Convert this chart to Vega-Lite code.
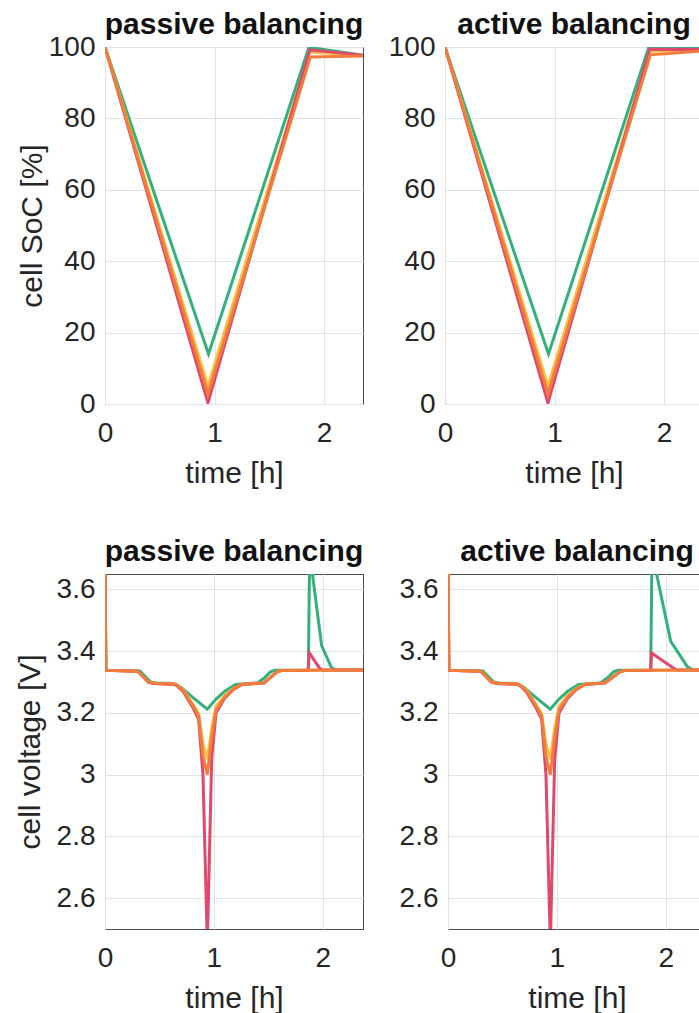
{
  "$schema": "https://vega.github.io/schema/vega-lite/v6.json",
  "padding": {"left": 14, "top": 9, "right": 0, "bottom": 0},
  "background": "white",
  "config": {
    "font": "Liberation Sans",
    "view": {"stroke": "#4d4d4d", "strokeWidth": 1},
    "axis": {
      "labelFont": "Liberation Sans", "titleFont": "Liberation Sans",
      "labelFontSize": 28, "titleFontSize": 30, "titleFontWeight": "normal",
      "labelColor": "#262626", "titleColor": "#262626",
      "ticks": false, "domain": false, "grid": true, "gridColor": "#e3e3e3",
      "labelFlush": false, "labelOverlap": false
    },
    "axisX": {"labelPadding": 15, "minExtent": 45, "maxExtent": 45, "titlePadding": 9},
    "axisY": {"labelPadding": 10, "titlePadding": 1},
    "title": {"font": "Liberation Sans", "fontSize": 30, "fontWeight": "bold", "color": "#111111", "offset": -7}
  },
  "datasets": {
    "soc": [
      {"mode": "passive", "cell": "a", "t": 0, "soc": 100},
      {"mode": "passive", "cell": "a", "t": 0.945, "soc": 14},
      {"mode": "passive", "cell": "a", "t": 1.862, "soc": 99.9},
      {"mode": "passive", "cell": "a", "t": 2.36, "soc": 97.7},
      {"mode": "passive", "cell": "b", "t": 0, "soc": 100},
      {"mode": "passive", "cell": "b", "t": 0.94, "soc": 5},
      {"mode": "passive", "cell": "b", "t": 1.87, "soc": 98.6},
      {"mode": "passive", "cell": "b", "t": 2.36, "soc": 97.6},
      {"mode": "passive", "cell": "c", "t": 0, "soc": 100},
      {"mode": "passive", "cell": "c", "t": 0.94, "soc": 0.3},
      {"mode": "passive", "cell": "c", "t": 1.87, "soc": 99.2},
      {"mode": "passive", "cell": "c", "t": 2.36, "soc": 97.7},
      {"mode": "passive", "cell": "d", "t": 0, "soc": 100},
      {"mode": "passive", "cell": "d", "t": 0.94, "soc": 2.8},
      {"mode": "passive", "cell": "d", "t": 1.875, "soc": 97.2},
      {"mode": "passive", "cell": "d", "t": 2.36, "soc": 97.5},
      {"mode": "active", "cell": "a", "t": 0, "soc": 100},
      {"mode": "active", "cell": "a", "t": 0.945, "soc": 14},
      {"mode": "active", "cell": "a", "t": 1.862, "soc": 100},
      {"mode": "active", "cell": "a", "t": 2.36, "soc": 99.7},
      {"mode": "active", "cell": "b", "t": 0, "soc": 100},
      {"mode": "active", "cell": "b", "t": 0.94, "soc": 5},
      {"mode": "active", "cell": "b", "t": 1.87, "soc": 98.8},
      {"mode": "active", "cell": "b", "t": 2.36, "soc": 99.1},
      {"mode": "active", "cell": "c", "t": 0, "soc": 100},
      {"mode": "active", "cell": "c", "t": 0.94, "soc": 0.3},
      {"mode": "active", "cell": "c", "t": 1.87, "soc": 99.4},
      {"mode": "active", "cell": "c", "t": 2.36, "soc": 99.3},
      {"mode": "active", "cell": "d", "t": 0, "soc": 100},
      {"mode": "active", "cell": "d", "t": 0.94, "soc": 2.8},
      {"mode": "active", "cell": "d", "t": 1.875, "soc": 97.8},
      {"mode": "active", "cell": "d", "t": 2.36, "soc": 98.9}
    ],
    "volt": [
      {"mode": "passive", "cell": "a", "t": 0, "v": 3.7},
      {"mode": "passive", "cell": "a", "t": 0.008, "v": 3.338},
      {"mode": "passive", "cell": "a", "t": 0.32, "v": 3.336},
      {"mode": "passive", "cell": "a", "t": 0.37, "v": 3.318},
      {"mode": "passive", "cell": "a", "t": 0.42, "v": 3.3},
      {"mode": "passive", "cell": "a", "t": 0.47, "v": 3.297},
      {"mode": "passive", "cell": "a", "t": 0.62, "v": 3.295},
      {"mode": "passive", "cell": "a", "t": 0.7, "v": 3.282},
      {"mode": "passive", "cell": "a", "t": 0.8, "v": 3.252},
      {"mode": "passive", "cell": "a", "t": 0.94, "v": 3.212},
      {"mode": "passive", "cell": "a", "t": 1.02, "v": 3.245},
      {"mode": "passive", "cell": "a", "t": 1.1, "v": 3.27},
      {"mode": "passive", "cell": "a", "t": 1.2, "v": 3.292},
      {"mode": "passive", "cell": "a", "t": 1.4, "v": 3.297},
      {"mode": "passive", "cell": "a", "t": 1.46, "v": 3.312},
      {"mode": "passive", "cell": "a", "t": 1.52, "v": 3.333},
      {"mode": "passive", "cell": "a", "t": 1.56, "v": 3.338},
      {"mode": "passive", "cell": "a", "t": 1.868, "v": 3.338},
      {"mode": "passive", "cell": "a", "t": 1.88, "v": 3.72},
      {"mode": "passive", "cell": "a", "t": 1.99, "v": 3.418},
      {"mode": "passive", "cell": "a", "t": 2.08, "v": 3.347},
      {"mode": "passive", "cell": "a", "t": 2.12, "v": 3.339},
      {"mode": "passive", "cell": "a", "t": 2.37, "v": 3.339},
      {"mode": "passive", "cell": "b", "t": 0, "v": 3.7},
      {"mode": "passive", "cell": "b", "t": 0.008, "v": 3.338},
      {"mode": "passive", "cell": "b", "t": 0.3, "v": 3.335},
      {"mode": "passive", "cell": "b", "t": 0.35, "v": 3.318},
      {"mode": "passive", "cell": "b", "t": 0.4, "v": 3.3},
      {"mode": "passive", "cell": "b", "t": 0.45, "v": 3.296},
      {"mode": "passive", "cell": "b", "t": 0.65, "v": 3.293},
      {"mode": "passive", "cell": "b", "t": 0.72, "v": 3.274},
      {"mode": "passive", "cell": "b", "t": 0.8, "v": 3.232},
      {"mode": "passive", "cell": "b", "t": 0.86, "v": 3.198},
      {"mode": "passive", "cell": "b", "t": 0.9, "v": 3.1},
      {"mode": "passive", "cell": "b", "t": 0.94, "v": 3.05},
      {"mode": "passive", "cell": "b", "t": 0.98, "v": 3.15},
      {"mode": "passive", "cell": "b", "t": 1.02, "v": 3.222},
      {"mode": "passive", "cell": "b", "t": 1.1, "v": 3.256},
      {"mode": "passive", "cell": "b", "t": 1.18, "v": 3.28},
      {"mode": "passive", "cell": "b", "t": 1.26, "v": 3.293},
      {"mode": "passive", "cell": "b", "t": 1.46, "v": 3.297},
      {"mode": "passive", "cell": "b", "t": 1.52, "v": 3.315},
      {"mode": "passive", "cell": "b", "t": 1.58, "v": 3.333},
      {"mode": "passive", "cell": "b", "t": 1.62, "v": 3.337},
      {"mode": "passive", "cell": "b", "t": 1.87, "v": 3.338},
      {"mode": "passive", "cell": "b", "t": 2.37, "v": 3.339},
      {"mode": "passive", "cell": "c", "t": 0, "v": 3.7},
      {"mode": "passive", "cell": "c", "t": 0.008, "v": 3.338},
      {"mode": "passive", "cell": "c", "t": 0.3, "v": 3.335},
      {"mode": "passive", "cell": "c", "t": 0.35, "v": 3.317},
      {"mode": "passive", "cell": "c", "t": 0.4, "v": 3.299},
      {"mode": "passive", "cell": "c", "t": 0.45, "v": 3.295},
      {"mode": "passive", "cell": "c", "t": 0.65, "v": 3.292},
      {"mode": "passive", "cell": "c", "t": 0.72, "v": 3.268},
      {"mode": "passive", "cell": "c", "t": 0.8, "v": 3.222},
      {"mode": "passive", "cell": "c", "t": 0.86, "v": 3.18},
      {"mode": "passive", "cell": "c", "t": 0.9, "v": 3.0},
      {"mode": "passive", "cell": "c", "t": 0.94, "v": 2.45},
      {"mode": "passive", "cell": "c", "t": 0.98, "v": 3.05},
      {"mode": "passive", "cell": "c", "t": 1.02, "v": 3.2},
      {"mode": "passive", "cell": "c", "t": 1.1, "v": 3.248},
      {"mode": "passive", "cell": "c", "t": 1.18, "v": 3.276},
      {"mode": "passive", "cell": "c", "t": 1.26, "v": 3.292},
      {"mode": "passive", "cell": "c", "t": 1.46, "v": 3.297},
      {"mode": "passive", "cell": "c", "t": 1.52, "v": 3.315},
      {"mode": "passive", "cell": "c", "t": 1.58, "v": 3.333},
      {"mode": "passive", "cell": "c", "t": 1.62, "v": 3.337},
      {"mode": "passive", "cell": "c", "t": 1.866, "v": 3.338},
      {"mode": "passive", "cell": "c", "t": 1.876, "v": 3.395},
      {"mode": "passive", "cell": "c", "t": 1.97, "v": 3.345},
      {"mode": "passive", "cell": "c", "t": 2.0, "v": 3.339},
      {"mode": "passive", "cell": "c", "t": 2.37, "v": 3.339},
      {"mode": "passive", "cell": "d", "t": 0, "v": 3.7},
      {"mode": "passive", "cell": "d", "t": 0.008, "v": 3.338},
      {"mode": "passive", "cell": "d", "t": 0.3, "v": 3.335},
      {"mode": "passive", "cell": "d", "t": 0.35, "v": 3.318},
      {"mode": "passive", "cell": "d", "t": 0.4, "v": 3.3},
      {"mode": "passive", "cell": "d", "t": 0.45, "v": 3.296},
      {"mode": "passive", "cell": "d", "t": 0.65, "v": 3.293},
      {"mode": "passive", "cell": "d", "t": 0.72, "v": 3.272},
      {"mode": "passive", "cell": "d", "t": 0.8, "v": 3.228},
      {"mode": "passive", "cell": "d", "t": 0.86, "v": 3.19},
      {"mode": "passive", "cell": "d", "t": 0.9, "v": 3.06},
      {"mode": "passive", "cell": "d", "t": 0.94, "v": 3.0},
      {"mode": "passive", "cell": "d", "t": 0.98, "v": 3.12},
      {"mode": "passive", "cell": "d", "t": 1.02, "v": 3.21},
      {"mode": "passive", "cell": "d", "t": 1.1, "v": 3.252},
      {"mode": "passive", "cell": "d", "t": 1.18, "v": 3.278},
      {"mode": "passive", "cell": "d", "t": 1.26, "v": 3.293},
      {"mode": "passive", "cell": "d", "t": 1.46, "v": 3.297},
      {"mode": "passive", "cell": "d", "t": 1.52, "v": 3.315},
      {"mode": "passive", "cell": "d", "t": 1.58, "v": 3.333},
      {"mode": "passive", "cell": "d", "t": 1.62, "v": 3.337},
      {"mode": "passive", "cell": "d", "t": 1.87, "v": 3.338},
      {"mode": "passive", "cell": "d", "t": 2.37, "v": 3.339},

      {"mode": "active", "cell": "a", "t": 0, "v": 3.7},
      {"mode": "active", "cell": "a", "t": 0.008, "v": 3.338},
      {"mode": "active", "cell": "a", "t": 0.32, "v": 3.336},
      {"mode": "active", "cell": "a", "t": 0.37, "v": 3.318},
      {"mode": "active", "cell": "a", "t": 0.42, "v": 3.3},
      {"mode": "active", "cell": "a", "t": 0.47, "v": 3.297},
      {"mode": "active", "cell": "a", "t": 0.62, "v": 3.295},
      {"mode": "active", "cell": "a", "t": 0.7, "v": 3.282},
      {"mode": "active", "cell": "a", "t": 0.8, "v": 3.252},
      {"mode": "active", "cell": "a", "t": 0.94, "v": 3.212},
      {"mode": "active", "cell": "a", "t": 1.02, "v": 3.245},
      {"mode": "active", "cell": "a", "t": 1.1, "v": 3.27},
      {"mode": "active", "cell": "a", "t": 1.2, "v": 3.292},
      {"mode": "active", "cell": "a", "t": 1.4, "v": 3.297},
      {"mode": "active", "cell": "a", "t": 1.46, "v": 3.312},
      {"mode": "active", "cell": "a", "t": 1.52, "v": 3.333},
      {"mode": "active", "cell": "a", "t": 1.56, "v": 3.338},
      {"mode": "active", "cell": "a", "t": 1.862, "v": 3.338},
      {"mode": "active", "cell": "a", "t": 1.874, "v": 3.72},
      {"mode": "active", "cell": "a", "t": 2.046, "v": 3.432},
      {"mode": "active", "cell": "a", "t": 2.2, "v": 3.349},
      {"mode": "active", "cell": "a", "t": 2.25, "v": 3.339},
      {"mode": "active", "cell": "a", "t": 2.37, "v": 3.339},
      {"mode": "active", "cell": "b", "t": 0, "v": 3.7},
      {"mode": "active", "cell": "b", "t": 0.008, "v": 3.338},
      {"mode": "active", "cell": "b", "t": 0.3, "v": 3.335},
      {"mode": "active", "cell": "b", "t": 0.35, "v": 3.318},
      {"mode": "active", "cell": "b", "t": 0.4, "v": 3.3},
      {"mode": "active", "cell": "b", "t": 0.45, "v": 3.296},
      {"mode": "active", "cell": "b", "t": 0.65, "v": 3.293},
      {"mode": "active", "cell": "b", "t": 0.72, "v": 3.274},
      {"mode": "active", "cell": "b", "t": 0.8, "v": 3.232},
      {"mode": "active", "cell": "b", "t": 0.86, "v": 3.198},
      {"mode": "active", "cell": "b", "t": 0.9, "v": 3.1},
      {"mode": "active", "cell": "b", "t": 0.94, "v": 3.05},
      {"mode": "active", "cell": "b", "t": 0.98, "v": 3.15},
      {"mode": "active", "cell": "b", "t": 1.02, "v": 3.222},
      {"mode": "active", "cell": "b", "t": 1.1, "v": 3.256},
      {"mode": "active", "cell": "b", "t": 1.18, "v": 3.28},
      {"mode": "active", "cell": "b", "t": 1.26, "v": 3.293},
      {"mode": "active", "cell": "b", "t": 1.44, "v": 3.297},
      {"mode": "active", "cell": "b", "t": 1.51, "v": 3.315},
      {"mode": "active", "cell": "b", "t": 1.58, "v": 3.333},
      {"mode": "active", "cell": "b", "t": 1.62, "v": 3.337},
      {"mode": "active", "cell": "b", "t": 1.87, "v": 3.338},
      {"mode": "active", "cell": "b", "t": 2.37, "v": 3.339},
      {"mode": "active", "cell": "c", "t": 0, "v": 3.7},
      {"mode": "active", "cell": "c", "t": 0.008, "v": 3.338},
      {"mode": "active", "cell": "c", "t": 0.3, "v": 3.335},
      {"mode": "active", "cell": "c", "t": 0.35, "v": 3.317},
      {"mode": "active", "cell": "c", "t": 0.4, "v": 3.299},
      {"mode": "active", "cell": "c", "t": 0.45, "v": 3.295},
      {"mode": "active", "cell": "c", "t": 0.65, "v": 3.292},
      {"mode": "active", "cell": "c", "t": 0.72, "v": 3.268},
      {"mode": "active", "cell": "c", "t": 0.8, "v": 3.222},
      {"mode": "active", "cell": "c", "t": 0.86, "v": 3.18},
      {"mode": "active", "cell": "c", "t": 0.9, "v": 3.0},
      {"mode": "active", "cell": "c", "t": 0.94, "v": 2.45},
      {"mode": "active", "cell": "c", "t": 0.98, "v": 3.05},
      {"mode": "active", "cell": "c", "t": 1.02, "v": 3.2},
      {"mode": "active", "cell": "c", "t": 1.1, "v": 3.248},
      {"mode": "active", "cell": "c", "t": 1.18, "v": 3.276},
      {"mode": "active", "cell": "c", "t": 1.26, "v": 3.292},
      {"mode": "active", "cell": "c", "t": 1.44, "v": 3.297},
      {"mode": "active", "cell": "c", "t": 1.51, "v": 3.315},
      {"mode": "active", "cell": "c", "t": 1.58, "v": 3.333},
      {"mode": "active", "cell": "c", "t": 1.62, "v": 3.337},
      {"mode": "active", "cell": "c", "t": 1.862, "v": 3.338},
      {"mode": "active", "cell": "c", "t": 1.87, "v": 3.394},
      {"mode": "active", "cell": "c", "t": 2.06, "v": 3.348},
      {"mode": "active", "cell": "c", "t": 2.1, "v": 3.339},
      {"mode": "active", "cell": "c", "t": 2.37, "v": 3.339},
      {"mode": "active", "cell": "d", "t": 0, "v": 3.7},
      {"mode": "active", "cell": "d", "t": 0.008, "v": 3.338},
      {"mode": "active", "cell": "d", "t": 0.3, "v": 3.335},
      {"mode": "active", "cell": "d", "t": 0.35, "v": 3.318},
      {"mode": "active", "cell": "d", "t": 0.4, "v": 3.3},
      {"mode": "active", "cell": "d", "t": 0.45, "v": 3.296},
      {"mode": "active", "cell": "d", "t": 0.65, "v": 3.293},
      {"mode": "active", "cell": "d", "t": 0.72, "v": 3.272},
      {"mode": "active", "cell": "d", "t": 0.8, "v": 3.228},
      {"mode": "active", "cell": "d", "t": 0.86, "v": 3.19},
      {"mode": "active", "cell": "d", "t": 0.9, "v": 3.06},
      {"mode": "active", "cell": "d", "t": 0.94, "v": 3.0},
      {"mode": "active", "cell": "d", "t": 0.98, "v": 3.12},
      {"mode": "active", "cell": "d", "t": 1.02, "v": 3.21},
      {"mode": "active", "cell": "d", "t": 1.1, "v": 3.252},
      {"mode": "active", "cell": "d", "t": 1.18, "v": 3.278},
      {"mode": "active", "cell": "d", "t": 1.26, "v": 3.293},
      {"mode": "active", "cell": "d", "t": 1.44, "v": 3.297},
      {"mode": "active", "cell": "d", "t": 1.51, "v": 3.315},
      {"mode": "active", "cell": "d", "t": 1.58, "v": 3.333},
      {"mode": "active", "cell": "d", "t": 1.62, "v": 3.337},
      {"mode": "active", "cell": "d", "t": 1.87, "v": 3.338},
      {"mode": "active", "cell": "d", "t": 2.37, "v": 3.339}
    ]
  },
  "vconcat": [
    {
      "spacing": 23,
      "hconcat": [
        {
          "width": 258, "height": 357,
          "title": {"text": "passive balancing"},
          "data": {"name": "soc"},
          "transform": [{"filter": "datum.mode === 'passive'"}],
          "mark": {"type": "line", "strokeWidth": 3, "clip": true},
          "encoding": {
            "x": {"field": "t", "type": "quantitative", "scale": {"domain": [0, 2.356], "nice": false, "zero": false}, "axis": {"values": [0, 1, 2], "title": "time [h]"}},
            "y": {"field": "soc", "type": "quantitative", "scale": {"domain": [0, 100], "nice": false}, "axis": {"values": [0, 20, 40, 60, 80, 100], "format": "~r", "title": "cell SoC [%]", "minExtent": 57, "maxExtent": 57}},
            "color": {"field": "cell", "type": "nominal", "scale": {"domain": ["a", "b", "c", "d"], "range": ["#34b07a", "#f4c144", "#e0496c", "#f27c3b"]}, "legend": null}
          }
        },
        {
          "width": 258, "height": 357,
          "title": {"text": "active balancing"},
          "data": {"name": "soc"},
          "transform": [{"filter": "datum.mode === 'active'"}],
          "mark": {"type": "line", "strokeWidth": 3, "clip": true},
          "encoding": {
            "x": {"field": "t", "type": "quantitative", "scale": {"domain": [0, 2.356], "nice": false, "zero": false}, "axis": {"values": [0, 1, 2], "title": "time [h]"}},
            "y": {"field": "soc", "type": "quantitative", "scale": {"domain": [0, 100], "nice": false}, "axis": {"values": [0, 20, 40, 60, 80, 100], "format": "~r", "title": null, "minExtent": 57, "maxExtent": 57}},
            "color": {"field": "cell", "type": "nominal", "scale": {"domain": ["a", "b", "c", "d"], "range": ["#34b07a", "#f4c144", "#e0496c", "#f27c3b"]}, "legend": null}
          }
        }
      ]
    },
    {
      "spacing": 26,
      "hconcat": [
        {
          "width": 258, "height": 355,
          "title": {"text": "passive balancing", "offset": 7},
          "data": {"name": "volt"},
          "transform": [{"filter": "datum.mode === 'passive'"}],
          "mark": {"type": "line", "strokeWidth": 3, "clip": true},
          "encoding": {
            "x": {"field": "t", "type": "quantitative", "scale": {"domain": [0, 2.37], "nice": false, "zero": false}, "axis": {"values": [0, 1, 2], "title": "time [h]"}},
            "y": {"field": "v", "type": "quantitative", "scale": {"domain": [2.5, 3.65], "nice": false, "zero": false}, "axis": {"values": [2.6, 2.8, 3, 3.2, 3.4, 3.6], "format": "~r", "title": "cell voltage [V]", "minExtent": 59, "maxExtent": 59}},
            "color": {"field": "cell", "type": "nominal", "scale": {"domain": ["a", "b", "c", "d"], "range": ["#34b07a", "#f4c144", "#e0496c", "#f27c3b"]}, "legend": null}
          }
        },
        {
          "width": 258, "height": 355,
          "title": {"text": "active balancing", "offset": 7},
          "data": {"name": "volt"},
          "transform": [{"filter": "datum.mode === 'active'"}],
          "mark": {"type": "line", "strokeWidth": 3, "clip": true},
          "encoding": {
            "x": {"field": "t", "type": "quantitative", "scale": {"domain": [0, 2.37], "nice": false, "zero": false}, "axis": {"values": [0, 1, 2], "title": "time [h]"}},
            "y": {"field": "v", "type": "quantitative", "scale": {"domain": [2.5, 3.65], "nice": false, "zero": false}, "axis": {"values": [2.6, 2.8, 3, 3.2, 3.4, 3.6], "format": "~r", "title": null, "minExtent": 57, "maxExtent": 57}},
            "color": {"field": "cell", "type": "nominal", "scale": {"domain": ["a", "b", "c", "d"], "range": ["#34b07a", "#f4c144", "#e0496c", "#f27c3b"]}, "legend": null}
          }
        }
      ]
    }
  ],
  "spacing": 47
}
